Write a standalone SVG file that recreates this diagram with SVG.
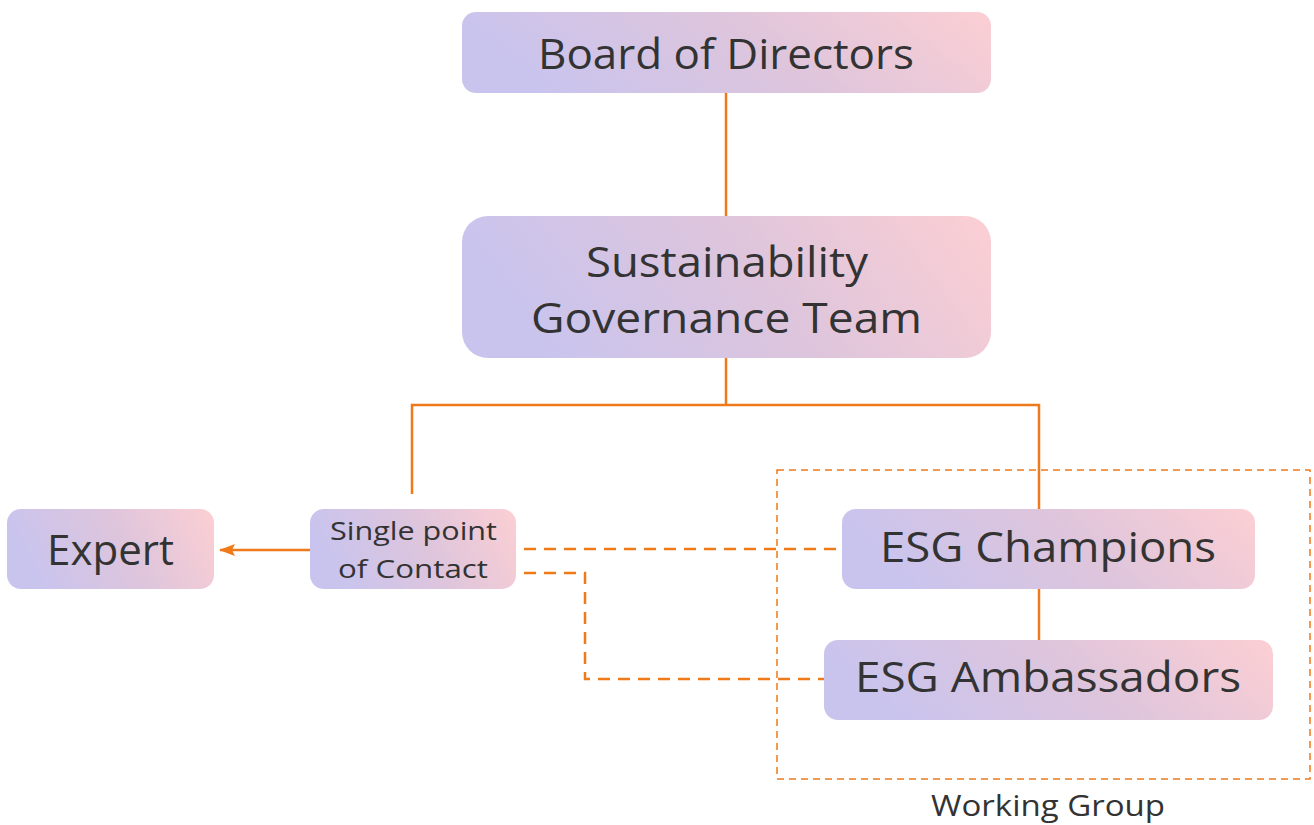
<svg xmlns="http://www.w3.org/2000/svg" width="1314" height="825" viewBox="0 0 1314 825">
  <defs>
    <linearGradient id="nodeFill" x1="0" y1="0.2" x2="1" y2="0">
      <stop offset="0" stop-color="#C9C4EE"/>
      <stop offset="0.5" stop-color="#DEC5DC"/>
      <stop offset="1" stop-color="#FCCFD3"/>
    </linearGradient>
    <marker id="arrowHead" viewBox="0 0 16 12" refX="15" refY="6" markerWidth="16" markerHeight="12" markerUnits="userSpaceOnUse" orient="auto">
      <path d="M0,0 L16,6 L0,12 L3,6 Z" fill="#EF7A1A"/>
    </marker>
    <style>
      .node { fill: url(#nodeFill); }
      .label { font-family: "Open Sans", "Liberation Sans", sans-serif; fill: #333333; text-anchor: middle; }
      .big { font-size: 42px; }
      .small { font-size: 26px; }
      .link { fill: none; stroke: #EF7A1A; stroke-width: 2.5; }
      .dash { fill: none; stroke: #EF7A1A; stroke-width: 2.5; stroke-dasharray: 12 8; }
      .group { fill: none; stroke: #EF7A1A; stroke-width: 1.5; stroke-dasharray: 7 5; }
    </style>
  </defs>
  <rect width="1314" height="825" fill="#ffffff"/>

  <!-- connectors -->
  <g id="connectors">
    <path class="link" d="M726,93 V216"/>
    <path class="link" d="M726,358 V405"/>
    <path class="link" d="M412,494 V405 H1039 V509"/>
    <path class="link" d="M1039,589 V640"/>
    <path class="link" d="M310,550 H220" marker-end="url(#arrowHead)"/>
    <path class="dash" d="M524,549 H836"/>
    <path class="dash" d="M524,573 H585 V679 H824"/>
  </g>

  <!-- working group frame -->
  <g id="working-group">
    <rect class="group" x="777" y="470" width="533" height="309"/>
    <text class="label" x="1048" y="816" font-size="30" textLength="234" lengthAdjust="spacingAndGlyphs">Working Group</text>
  </g>

  <g id="board">
    <rect class="node" x="462" y="12" width="529" height="81" rx="14"/>
    <text class="label big" x="726" y="69" textLength="376" lengthAdjust="spacingAndGlyphs">Board of Directors</text>
  </g>

  <g id="governance-team">
    <rect class="node" x="462" y="216" width="529" height="142" rx="26"/>
    <text class="label big" x="727" y="277" textLength="282" lengthAdjust="spacingAndGlyphs">Sustainability</text>
    <text class="label big" x="726.5" y="333" textLength="391" lengthAdjust="spacingAndGlyphs">Governance Team</text>
  </g>

  <g id="expert">
    <rect class="node" x="7" y="509" width="207" height="80" rx="14"/>
    <text class="label big" x="110.5" y="565" textLength="127" lengthAdjust="spacingAndGlyphs">Expert</text>
  </g>

  <g id="single-point-of-contact">
    <rect class="node" x="310" y="509" width="206" height="80" rx="14"/>
    <text class="label small" x="413.5" y="540" textLength="167" lengthAdjust="spacingAndGlyphs">Single point</text>
    <text class="label small" x="413" y="578" textLength="150" lengthAdjust="spacingAndGlyphs">of Contact</text>
  </g>

  <g id="esg-champions">
    <rect class="node" x="842" y="509" width="413" height="80" rx="14"/>
    <text class="label big" x="1048" y="562" textLength="336" lengthAdjust="spacingAndGlyphs">ESG Champions</text>
  </g>

  <g id="esg-ambassadors">
    <rect class="node" x="824" y="640" width="449" height="80" rx="14"/>
    <text class="label big" x="1048" y="692" textLength="386" lengthAdjust="spacingAndGlyphs">ESG Ambassadors</text>
  </g>
</svg>
